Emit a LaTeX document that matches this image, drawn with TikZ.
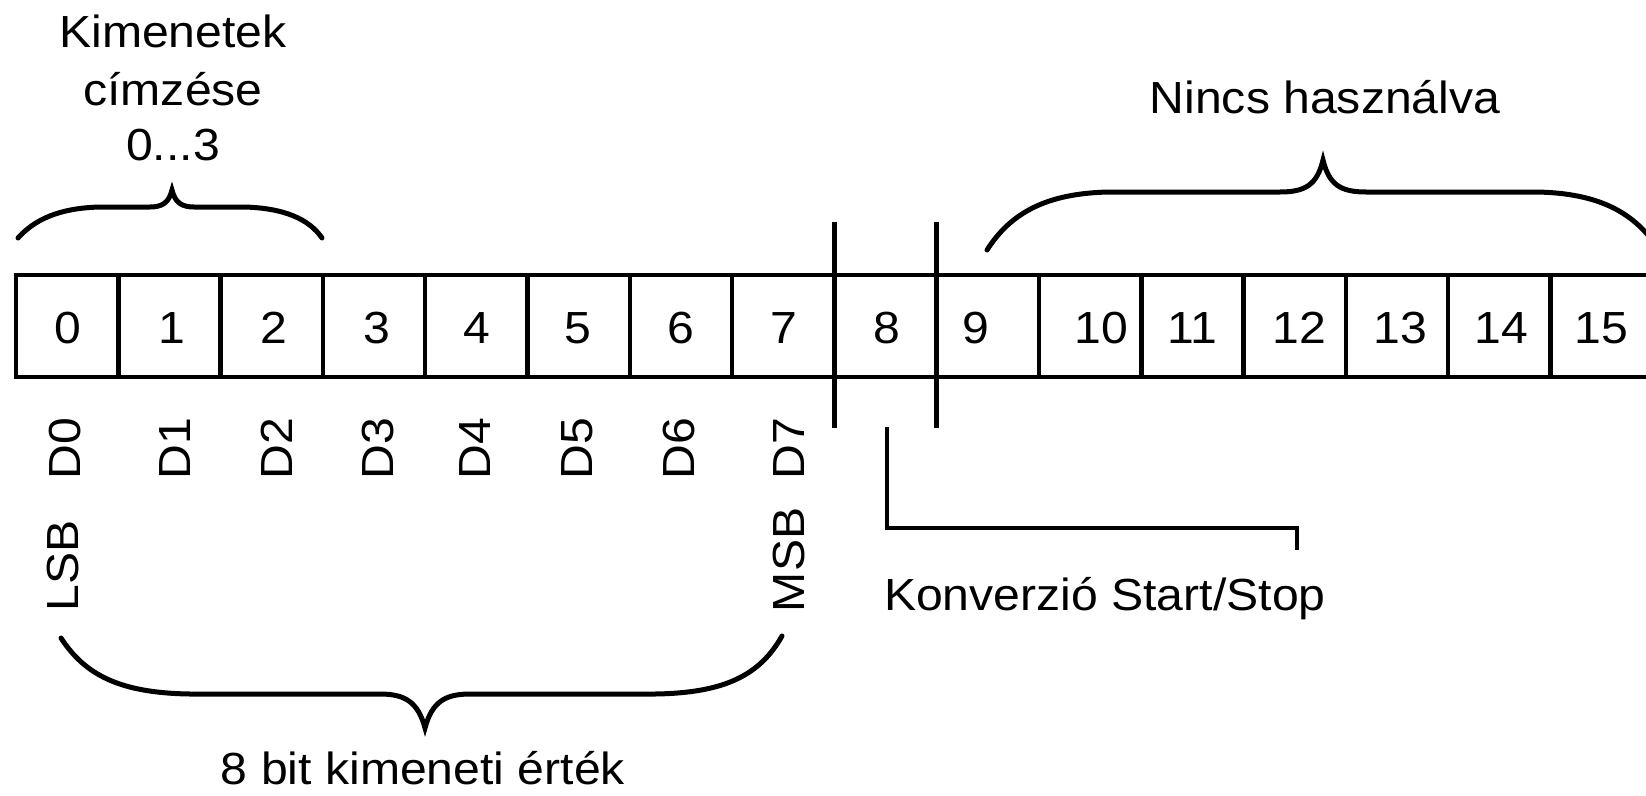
\documentclass[tikz,border=0pt]{standalone}
\usepackage{fontspec}
\setmainfont{Liberation Sans}[FakeStretch=1.07]
\tikzset{
  cell/.style={draw, line width=4.5pt, minimum width=102.3pt, minimum height=102pt, inner sep=0pt, outer sep=0pt},
  lbl/.style={font=\fontsize{45}{54}\selectfont, inner sep=0pt, outer sep=0pt},
  dlbl/.style={lbl, rotate=90, anchor=base west},
  brace/.style={line width=5pt, line cap=round},
  bar/.style={line width=4.5pt},
  conn/.style={line width=4.5pt}
}
\begin{document}
\begin{tikzpicture}[x=1pt, y=-1pt]
\useasboundingbox (0,0) rectangle (1646,795);
% register cells
\foreach \k in {0,...,15}
  \node[cell] (c\k) at ({67.15+102.3*\k},326) {};
% cell numbers
\foreach \k/\dx in {0/1,1/2,2/2,3/3,4/1,5/-1,6/0,7/1,8/1,9/-12,10/11,11/0,12/5,13/3,14/2,15/0}
  \node[lbl] (n\k) at ({67.15+102.3*\k+\dx},328) {\k};
% long separator marks around bit 8
\coordinate (s8t) at (834.4,222);
\coordinate (s8b) at (834.4,428);
\coordinate (s9t) at (936.7,222);
\coordinate (s9b) at (936.7,428);
\draw[bar] (s8t) -- (s8b);
\draw[bar] (s9t) -- (s9b);
% top-left label and brace
\node[lbl, anchor=base] (t1) at (173,47) {Kimenetek};
\node[lbl, anchor=base] (t2) at (173,105) {címzése};
\node[lbl, anchor=base] (t3) at (173,160) {0...3};
\draw[brace] (18,238) .. controls (35,219) and (60,208) .. (100,207) -- (150,207)
  .. controls (163,207) and (169,202) .. (172,190)
  .. controls (175,202) and (181,207) .. (194,207) -- (244,207)
  .. controls (284,208) and (309,219) .. (322,238);
% top-right label and brace
\node[lbl, anchor=base] (t4) at (1325,113) {Nincs használva};
\draw[brace] (987,250) .. controls (1010,214) and (1045,193) .. (1110,192) -- (1280,192)
  .. controls (1305,192) and (1317,185) .. (1323,160)
  .. controls (1329,185) and (1341,192) .. (1366,192) -- (1536,192)
  .. controls (1601,193) and (1636,214) .. (1659,250);
% data bit labels
\foreach \k/\xb in {0/80,1/190,2/292,3/393,4/490,5/592,6/694,7/804}
  \node[dlbl] (D\k) at (\xb,479.5) {D\k};
\node[dlbl] (lsb) at (78,611) {LSB};
\node[dlbl] (msb) at (804,612) {MSB};
% bottom brace and label
\draw[brace] (61,638) .. controls (85,675) and (120,693) .. (190,694) -- (380,694)
  .. controls (405,694) and (418,702) .. (425,728)
  .. controls (432,702) and (445,694) .. (470,694) -- (655,694)
  .. controls (725,693) and (760,675) .. (782,636);
\node[lbl, anchor=base] (t5) at (423,784) {8 bit kimeneti érték};
% conversion start/stop
\node[lbl, anchor=base west] (konv) at (884,610) {Konverzió Start/Stop};
\coordinate (k0) at (887,427);
\coordinate (k1) at (887,528);
\coordinate (k2) at (1297,528);
\coordinate (k3) at (1297,550);
\draw[conn] (k0) -- (k1) -- (k2) -- (k3);
\end{tikzpicture}
\end{document}
